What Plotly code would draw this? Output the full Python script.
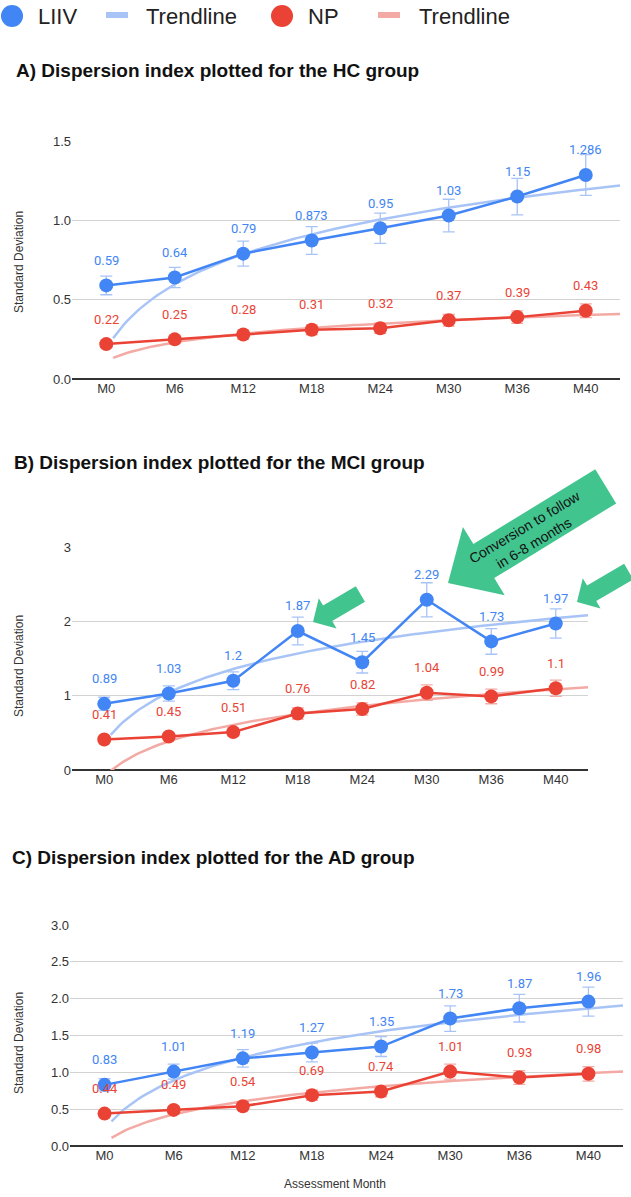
import math
import numpy as np
import plotly.graph_objects as go

W, H = 631, 1197

months = ["M0", "M6", "M12", "M18", "M24", "M30", "M36", "M40"]

hc_liiv = [0.59, 0.64, 0.79, 0.873, 0.95, 1.03, 1.15, 1.286]
hc_np = [0.22, 0.25, 0.28, 0.31, 0.32, 0.37, 0.39, 0.43]
mci_liiv = [0.89, 1.03, 1.2, 1.87, 1.45, 2.29, 1.73, 1.97]
mci_np = [0.41, 0.45, 0.51, 0.76, 0.82, 1.04, 0.99, 1.1]
ad_liiv = [0.83, 1.01, 1.19, 1.27, 1.35, 1.73, 1.87, 1.96]
ad_np = [0.44, 0.49, 0.54, 0.69, 0.74, 1.01, 0.93, 0.98]

ERR_PCT = 10  # error bars: percent of value

BLUE, BLUE_LT = "#4285f4", "#a8c4f6"
RED, RED_LT = "#ea4335", "#f4aaa4"
GREEN = "#42c48f"
TXT = "#222222"
FONT = "Liberation Sans, Arial, sans-serif"

# panel geometry in page pixels (left, right, top, bottom of plot area)
panels = [
    dict(title="A) Dispersion index plotted for the HC group", liiv=hc_liiv, np_=hc_np,
         box=(72, 620, 141, 379), yr=[0, 1.5], ticks=[0, 0.5, 1.0, 1.5], fmt=".1f",
         title_xy=(14, 70), ytitle_y=262),
    dict(title="B) Dispersion index plotted for the MCI group", liiv=mci_liiv, np_=mci_np,
         box=(72, 588, 547, 770), yr=[0, 3], ticks=[0, 1, 2, 3], fmt="d",
         title_xy=(12, 462), ytitle_y=666),
    dict(title="C) Dispersion index plotted for the AD group", liiv=ad_liiv, np_=ad_np,
         box=(70, 623, 925, 1146), yr=[0, 3], ticks=[0, 0.5, 1, 1.5, 2, 2.5, 3], fmt=".1f",
         title_xy=(10, 857), ytitle_y=1043),
]


def px(x, y):
    """page pixel -> paper fraction"""
    return x / W, 1 - y / H


def log_trend(vals, c=0.5):
    # logarithmic trendline on the 0-based index (first point has ln(0), so it is dropped)
    idx = np.arange(1, len(vals))
    a, b = np.polyfit(np.log(idx + c), np.asarray(vals[1:]), 1)
    xs = np.linspace(0.1, len(vals) - 0.5, 150)
    return xs, a * np.log(xs + c) + b


def arrow_path(tip, ang, length, shaft_w, head_w, head_len):
    ux, uy = math.cos(math.radians(ang)), -math.sin(math.radians(ang))
    nx, ny = -uy, ux
    tx, ty = tip
    bx, by = tx + ux * head_len, ty + uy * head_len
    ex, ey = tx + ux * length, ty + uy * length
    pts = [
        (tx, ty),
        (bx + nx * head_w / 2, by + ny * head_w / 2),
        (bx + nx * shaft_w / 2, by + ny * shaft_w / 2),
        (ex + nx * shaft_w / 2, ey + ny * shaft_w / 2),
        (ex - nx * shaft_w / 2, ey - ny * shaft_w / 2),
        (bx - nx * shaft_w / 2, by - ny * shaft_w / 2),
        (bx - nx * head_w / 2, by - ny * head_w / 2),
    ]
    p = [px(x, y) for x, y in pts]
    return "M " + " L ".join(f"{x:.5f},{y:.5f}" for x, y in p) + " Z"


fig = go.Figure()
annos, shapes = [], []
layout = {}

for k, p in enumerate(panels, start=1):
    xa = "x" if k == 1 else f"x{k}"
    ya = "y" if k == 1 else f"y{k}"
    l, r, t, b = p["box"]
    x0, y1 = px(l, t)
    x1, y0 = px(r, b)

    for vals, light in ((p["liiv"], BLUE_LT), (p["np_"], RED_LT)):
        tx_, ty_ = log_trend(vals)
        fig.add_trace(go.Scatter(x=tx_, y=ty_, mode="lines", xaxis=xa, yaxis=ya,
                                 line=dict(color=light, width=2.5), hoverinfo="skip",
                                 showlegend=False))
    for vals, col, light, name in ((p["np_"], RED, RED_LT, "NP"), (p["liiv"], BLUE, BLUE_LT, "LIIV")):
        xs = list(range(len(months)))
        fig.add_trace(go.Scatter(
            x=xs, y=vals, mode="lines+markers", name=name, xaxis=xa, yaxis=ya,
            line=dict(color=col, width=2.5), marker=dict(size=14, color=col),
            error_y=dict(type="percent", value=ERR_PCT, color=light, thickness=1.3, width=6),
            showlegend=False))
        for i, v in enumerate(vals):
            annos.append(dict(x=i, y=v, xref=xa, yref=ya, text=f"{v:g}", showarrow=False,
                              yshift=25, font=dict(family="Roboto, sans-serif", size=13, color=col)))

    layout["xaxis" if k == 1 else f"xaxis{k}"] = dict(
        domain=[x0, x1], anchor=ya, range=[-0.5, 7.5], tickvals=list(range(len(months))),
        ticktext=months, showgrid=False, zeroline=False, showline=False, ticks="",
        automargin=False, tickfont=dict(family=FONT, size=13, color="#333"), fixedrange=True)
    layout["yaxis" if k == 1 else f"yaxis{k}"] = dict(
        domain=[y0, y1], anchor=xa, range=p["yr"], tickvals=p["ticks"], tickformat=p["fmt"],
        showgrid=True, gridcolor="#d3d3d3", gridwidth=1, zeroline=True,
        zerolinecolor="#333", zerolinewidth=1.6, showline=False, automargin=False,
        tickfont=dict(family=FONT, size=13, color="#333"), fixedrange=True)

    tx_, ty_ = px(*p["title_xy"])
    annos.append(dict(x=tx_, y=ty_, xref="paper", yref="paper", text=f"<b>{p['title']}</b>",
                      showarrow=False, xanchor="left", yanchor="middle",
                      font=dict(family=FONT, size=19, color="#111")))
    _, yy = px(0, p["ytitle_y"])
    annos.append(dict(x=px(19, 0)[0], y=yy, xref="paper", yref="paper", text="Standard Deviation",
                      textangle=-90, showarrow=False, xanchor="center", yanchor="middle",
                      font=dict(family=FONT, size=12, color="#333")))

# x axis title (bottom panel)
ax_, ay_ = px(335, 1184)
annos.append(dict(x=ax_, y=ay_, xref="paper", yref="paper", text="Assessment Month",
                  showarrow=False, xanchor="center", yanchor="middle",
                  font=dict(family=FONT, size=12, color="#333")))

# legend row
legend_items = [("circle", 12, BLUE, "LIIV", 36), ("bar", 117, BLUE_LT, "Trendline", 144),
                ("circle", 282, RED, "NP", 306), ("bar", 389, RED_LT, "Trendline", 417)]
for kind, cx, col, label, tx in legend_items:
    if kind == "circle":
        xa0, ya0 = px(cx - 11, 5)
        xa1, ya1 = px(cx + 11, 27)
        shapes.append(dict(type="circle", xref="paper", yref="paper", x0=xa0, x1=xa1,
                           y0=ya1, y1=ya0, fillcolor=col, line=dict(width=0)))
    else:
        xa0, ya0 = px(cx - 11, 12)
        xa1, ya1 = px(cx + 11, 18)
        shapes.append(dict(type="rect", xref="paper", yref="paper", x0=xa0, x1=xa1,
                           y0=ya1, y1=ya0, fillcolor=col, line=dict(width=0)))
    lx, ly = px(tx, 16)
    annos.append(dict(x=lx, y=ly, xref="paper", yref="paper", text=label, showarrow=False,
                      xanchor="left", yanchor="middle", font=dict(family=FONT, size=22, color=TXT)))

# green call-out arrows on the MCI panel
for tip, ang, length, sw, hw, hl in [((448, 583), 31.5, 185, 40, 80, 42),
                                      ((313, 622), 30.5, 55, 18, 35, 17),
                                      ((577, 602), 30.5, 60, 18, 35, 17)]:
    shapes.append(dict(type="path", xref="paper", yref="paper",
                       path=arrow_path(tip, ang, length, sw, hw, hl),
                       fillcolor=GREEN, line=dict(width=0), layer="above"))
cx_, cy_ = px(529, 535)
annos.append(dict(x=cx_, y=cy_, xref="paper", yref="paper",
                  text="Conversion to follow<br>in 6-8 months", textangle=-31, showarrow=False,
                  xanchor="center", yanchor="middle",
                  font=dict(family=FONT, size=14, color="#111")))

fig.update_layout(
    width=W, height=H, margin=dict(l=0, r=0, t=0, b=0, autoexpand=False),
    paper_bgcolor="white", plot_bgcolor="white",
    font=dict(family=FONT, color=TXT), showlegend=False, hovermode=False,
    annotations=annos, shapes=shapes, **layout,
)

# drop the browser's default 8px body margin so the figure fills the window
fig.write_html("out.html", config={"displayModeBar": False},
               post_script="document.body.style.margin = '0px';")
